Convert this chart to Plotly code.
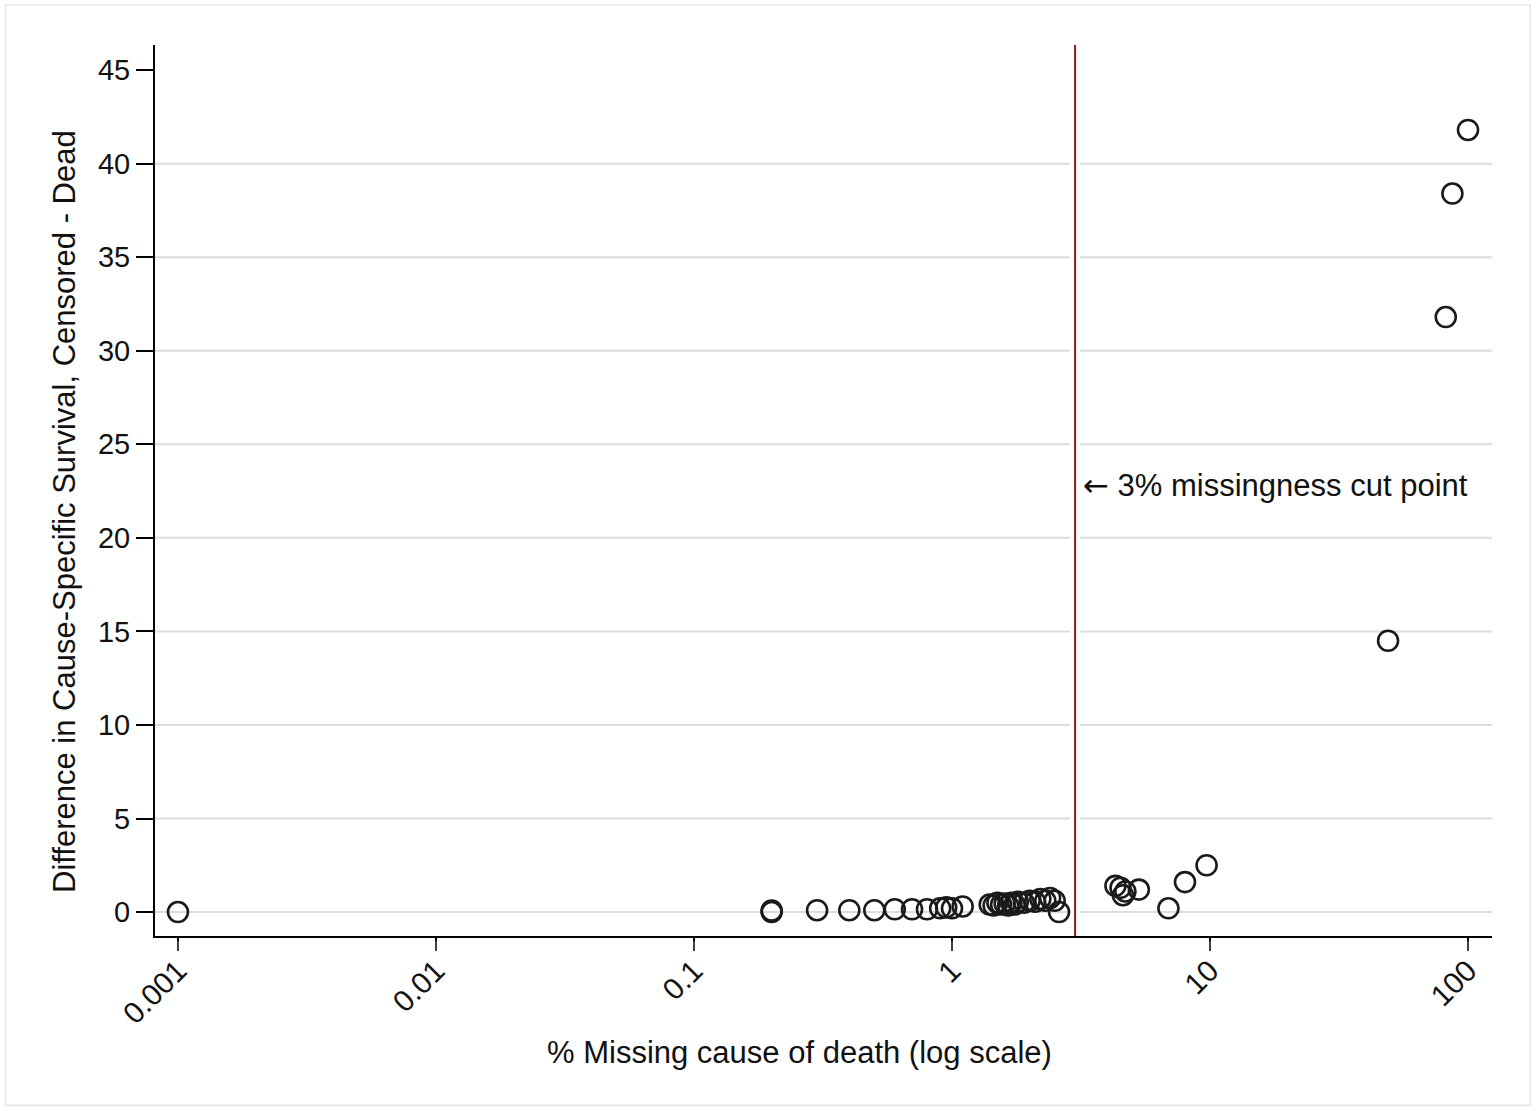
import math
import plotly.graph_objects as go

# Data
pct_missing = [0.001, 0.2, 0.2, 0.3, 0.4, 0.5, 0.6, 0.7, 0.8, 0.9, 0.95, 1.0, 1.1,
               1.4, 1.45, 1.5, 1.55, 1.6, 1.65, 1.7, 1.75, 1.8, 1.9, 2.0, 2.1, 2.2, 2.3, 2.4, 2.5, 2.6,
               4.3, 4.5, 4.6, 4.7, 5.3, 6.9, 8.0, 9.7,
               49, 82, 87, 100]
diff_css = [0.0, 0.0, 0.08, 0.1, 0.1, 0.1, 0.15, 0.15, 0.15, 0.2, 0.25, 0.2, 0.3,
            0.4, 0.35, 0.5, 0.4, 0.45, 0.35, 0.5, 0.4, 0.55, 0.5, 0.6, 0.55, 0.7, 0.6, 0.75, 0.6, 0.0,
            1.4, 1.3, 0.9, 1.1, 1.2, 0.2, 1.6, 2.5,
            14.5, 31.8, 38.4, 41.8]

cut_point = 3
y_ticks = [0, 5, 10, 15, 20, 25, 30, 35, 40, 45]
grid_vals = [0, 5, 10, 15, 20, 25, 30, 35, 40]
x_ticks = [0.001, 0.01, 0.1, 1, 10, 100]
x_tick_labels = ["0.001", "0.01", "0.1", "1", "10", "100"]

FONT = "Liberation Sans, Arial, sans-serif"
PLOT_H = 1111 - 45 - 175

fig = go.Figure()

fig.add_trace(go.Scatter(
    x=pct_missing, y=diff_css, mode="markers",
    marker=dict(symbol="circle-open", size=20, color="#1a1a1a", line=dict(width=2.6)),
    showlegend=False, hoverinfo="x+y",
))

shapes = []
for g in grid_vals:
    shapes.append(dict(type="line", xref="paper", yref="y", x0=0, x1=1, y0=g, y1=g,
                       line=dict(color="#dcdcdc", width=2), layer="below"))
# longer x tick marks (labels kept close to the axis)
for t in x_ticks:
    shapes.append(dict(type="line", xref="x", yref="paper", x0=t, x1=t, y0=0, y1=-15 / PLOT_H,
                       line=dict(color="black", width=1.5), layer="above"))
# white halo + red vertical cut line
shapes.append(dict(type="line", xref="x", yref="paper", x0=cut_point, x1=cut_point, y0=0, y1=1,
                   line=dict(color="white", width=10), layer="below"))
shapes.append(dict(type="line", xref="x", yref="paper", x0=cut_point, x1=cut_point, y0=0, y1=1,
                   line=dict(color="#8b1a1a", width=2), layer="above"))
# faint outer frame
shapes.append(dict(type="rect", xref="paper", yref="paper",
                   x0=-0.112, x1=1.0284, y0=-0.19, y1=1.045,
                   line=dict(color="#e6e6e6", width=1.5), layer="below"))

annotations = [
    dict(x=math.log10(cut_point), y=22.8, xref="x", yref="y",
         text='<span style="font-family:DejaVu Sans">←</span> 3% missingness cut point',
         showarrow=False, xanchor="left", xshift=6,
         font=dict(family=FONT, size=31, color="#111111")),
    dict(x=-0.0673, y=0.4759, xref="paper", yref="paper", textangle=-90,
         text="Difference in Cause-Specific Survival, Censored - Dead", showarrow=False,
         xanchor="center", yanchor="middle", font=dict(family=FONT, size=31, color="#111111")),
    dict(x=0.4817, y=-0.1302, xref="paper", yref="paper",
         text="% Missing cause of death (log scale)", showarrow=False,
         xanchor="center", yanchor="middle", font=dict(family=FONT, size=31, color="#111111")),
]

fig.update_layout(
    width=1538, height=1111,
    margin=dict(l=155, r=46, t=45, b=175),
    paper_bgcolor="white", plot_bgcolor="white",
    font=dict(family=FONT, size=29, color="#111111"),
    shapes=shapes,
    annotations=annotations,
    xaxis=dict(type="log", range=[-3.089, 2.093], tickvals=x_ticks, ticktext=x_tick_labels,
               tickangle=-45, ticks="outside", ticklen=3, tickwidth=1.5, tickcolor="black",
               showline=True, linecolor="black", linewidth=2, showgrid=False, zeroline=False,
               tickfont=dict(family=FONT, size=30)),
    yaxis=dict(range=[-1.28, 46.34], tickvals=y_ticks, ticks="outside", ticklen=17, tickwidth=1.5,
               tickcolor="black", showline=True, linecolor="black", linewidth=2, showgrid=False,
               zeroline=False, tickfont=dict(family=FONT, size=29)),
)

fig.write_html("out.html")
